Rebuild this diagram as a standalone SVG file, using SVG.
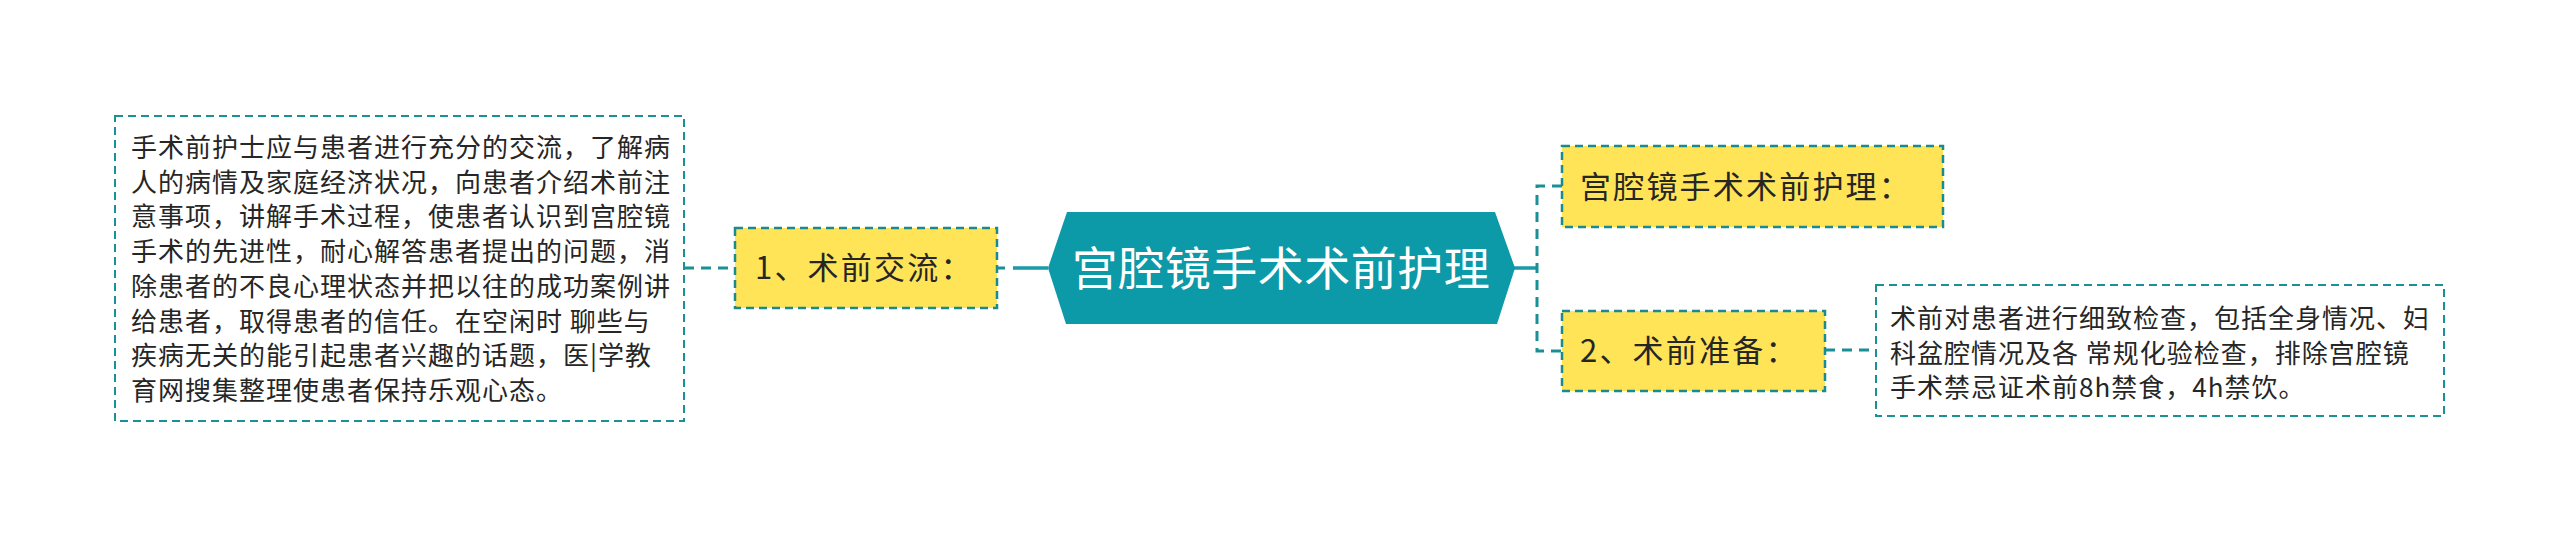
<svg xmlns="http://www.w3.org/2000/svg" width="2560" height="537" viewBox="0 0 2560 537">
<style>
.bg{fill:#ffffff}
.note{fill:#ffffff;stroke:#1a9098;stroke-width:2;stroke-dasharray:8,5}
.label{fill:#ffe458;stroke:#1a8a8f;stroke-width:2.5;stroke-dasharray:8,5}
.hex{fill:#0c99a8}
.dash{fill:none;stroke:#1a8f96;stroke-width:3;stroke-dasharray:10,7}
.solid{fill:none;stroke:#1a9aa6;stroke-width:3.5}
.t{font-family:"Noto Sans CJK SC","Noto Sans",sans-serif;fill:#262626}
.small{font-size:26px;letter-spacing:1px}
.mid{font-size:31px;letter-spacing:2.2px}
.title{font-family:"Noto Sans CJK SC","Noto Sans",sans-serif;font-size:46px;fill:#ffffff;letter-spacing:0.5px}
</style>
<rect class="bg" x="0" y="0" width="2560" height="537"/>
<g id="connectors">
  <line class="dash" x1="684" y1="268" x2="735" y2="268"/>
  <line class="dash" x1="998" y1="268" x2="1005" y2="268"/>
  <line class="solid" x1="1013" y1="268" x2="1048" y2="268"/>
  <line class="solid" x1="1513" y1="268" x2="1537" y2="268"/>
  <path class="dash" d="M1562,186 H1537 V351 H1562"/>
  <line class="dash" x1="1825" y1="350" x2="1876" y2="350"/>
</g>
<g id="root">
  <polygon class="hex" points="1048,268 1067,212 1495,212 1515,268 1497,324 1066,324"/>
  <text class="title" x="1281" y="285" text-anchor="middle">宫腔镜手术术前护理</text>
</g>
<g id="node-left-detail">
  <rect class="note" x="115" y="116" width="569" height="305"/>
  <text class="t small" x="131">
    <tspan x="131" y="157">手术前护士应与患者进行充分的交流，了解病</tspan>
    <tspan x="131" y="191.7">人的病情及家庭经济状况，向患者介绍术前注</tspan>
    <tspan x="131" y="226.4">意事项，讲解手术过程，使患者认识到宫腔镜</tspan>
    <tspan x="131" y="261.1">手术的先进性，耐心解答患者提出的问题，消</tspan>
    <tspan x="131" y="295.8">除患者的不良心理状态并把以往的成功案例讲</tspan>
    <tspan x="131" y="330.5">给患者，取得患者的信任。在空闲时 聊些与</tspan>
    <tspan x="131" y="365.2">疾病无关的能引起患者兴趣的话题，医|学教</tspan>
    <tspan x="131" y="399.9">育网搜集整理使患者保持乐观心态。</tspan>
  </text>
</g>
<g id="node-1">
  <rect class="label" x="735" y="228" width="262" height="80"/>
  <text class="t mid" x="755" y="279">1、术前交流：</text>
</g>
<g id="node-top">
  <rect class="label" x="1562" y="146" width="381" height="81"/>
  <text class="t mid" x="1580" y="198">宫腔镜手术术前护理：</text>
</g>
<g id="node-2">
  <rect class="label" x="1562" y="311" width="263" height="80"/>
  <text class="t mid" x="1580" y="362">2、术前准备：</text>
</g>
<g id="node-right-detail">
  <rect class="note" x="1876" y="285" width="568" height="131"/>
  <text class="t small">
    <tspan x="1890" y="328">术前对患者进行细致检查，包括全身情况、妇</tspan>
    <tspan x="1890" y="362.7">科盆腔情况及各 常规化验检查，排除宫腔镜</tspan>
    <tspan x="1890" y="397.4">手术禁忌证术前8h禁食，4h禁饮。</tspan>
  </text>
</g>
</svg>
